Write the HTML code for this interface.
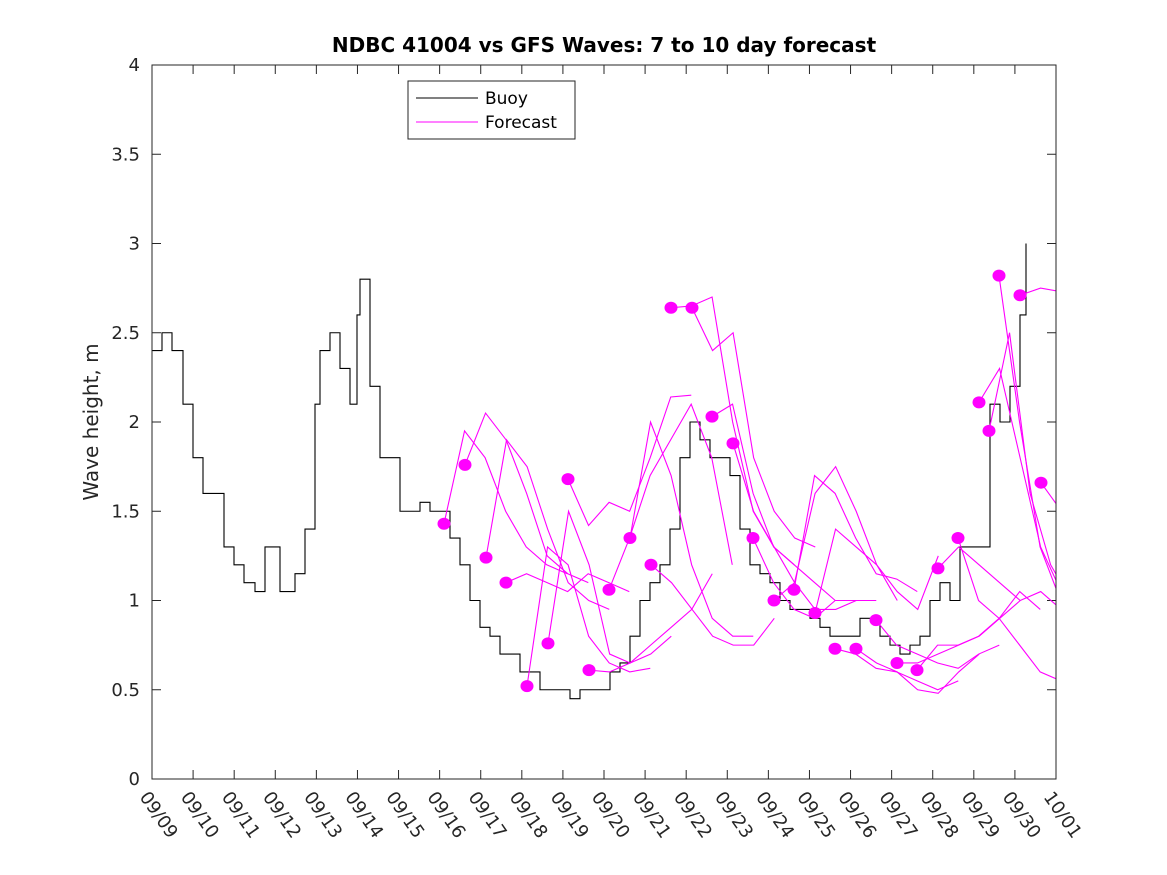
<!DOCTYPE html>
<html><head><meta charset="utf-8"><style>
body{margin:0;background:#fff}
svg{display:block;font-family:"DejaVu Sans","Liberation Sans",sans-serif}
</style></head><body>
<svg id="chart" width="1167" height="875" viewBox="0 0 1167 875">
<defs><clipPath id="clip"><rect x="152" y="65" width="904" height="714"/></clipPath></defs>
<rect width="1167" height="875" fill="#fff"/>
<text x="604" y="52" text-anchor="middle" font-size="20" font-weight="bold">NDBC 41004 vs GFS Waves: 7 to 10 day forecast</text>
<text transform="translate(98,422) rotate(-90)" text-anchor="middle" font-size="20" fill="#262626">Wave height, m</text>
<g id="axes"></g>
<g id="series" clip-path="url(#clip)"></g>
<rect x="152" y="65" width="904" height="714" fill="none" stroke="#262626" stroke-width="1"/>
<g>
<rect x="408" y="81" width="167" height="58" fill="#fff" stroke="#262626"/>
<line x1="416" y1="98" x2="478" y2="98" stroke="#000"/>
<text x="485" y="104" font-size="17">Buoy</text>
<line x1="416" y1="122" x2="478" y2="122" stroke="#f0f"/>
<text x="485" y="128" font-size="17">Forecast</text>
</g>
</svg>
<script>
const xTickLabels=["09/09","09/10","09/11","09/12","09/13","09/14","09/15","09/16","09/17","09/18","09/19","09/20","09/21","09/22","09/23","09/24","09/25","09/26","09/27","09/28","09/29","09/30","10/01"];
const yTicks=[0,0.5,1,1.5,2,2.5,3,3.5,4];
const buoyX=[152,162,172,183,193,203,213,224,234,244,255,265,280,295,305,315,320,330,340,350,357,360,370,380,390,400,410,420,430,440,450,460,470,480,490,500,510,520,530,540,550,560,570,580,590,600,610,620,630,640,650,660,670,680,690,700,710,720,730,740,750,760,770,780,790,800,810,820,830,840,850,860,870,880,890,900,910,920,930,940,950,960,970,980,990,1000,1010,1020,1026];
const buoyH=[2.4,2.5,2.4,2.1,1.8,1.6,1.6,1.3,1.2,1.1,1.05,1.3,1.05,1.15,1.4,2.1,2.4,2.5,2.3,2.1,2.6,2.8,2.2,1.8,1.8,1.5,1.5,1.55,1.5,1.5,1.35,1.2,1.0,0.85,0.8,0.7,0.7,0.6,0.6,0.5,0.5,0.5,0.45,0.5,0.5,0.5,0.6,0.65,0.8,1.0,1.1,1.2,1.4,1.8,2.0,1.9,1.8,1.8,1.7,1.4,1.2,1.15,1.1,1.0,0.95,0.95,0.9,0.85,0.8,0.8,0.8,0.9,0.9,0.8,0.75,0.7,0.75,0.8,1.0,1.1,1.0,1.3,1.3,1.3,2.1,2.0,2.2,2.6,3.0];
const fcStartX=[444,465,486,506,527,548,568,589,609,630,651,671,692,712,733,753,774,794,815,835,856,876,897,917,938,958,979,989,999,1020,1041];
const fcVals=[
[1.43,1.95,1.8,1.5,1.3,1.2,1.15],[1.76,2.05,1.9,1.6,1.25,1.15,1.1],[1.24,1.9,1.75,1.4,1.1,1.0,0.95],
[1.1,1.15,1.1,1.05,1.15,1.1,1.05],[0.52,1.3,1.2,0.8,0.65,0.6,0.62],[0.76,1.5,1.2,0.7,0.65,0.7,0.8],
[1.68,1.42,1.55,1.5,1.8,2.14,2.15],[0.61,0.6,0.65,0.75,0.85,0.95,1.15],[1.06,1.35,1.7,1.9,2.1,1.8,1.2],
[1.35,2.0,1.7,1.2,0.9,0.8,0.8],[1.2,1.1,0.95,0.8,0.75,0.75,0.9],[2.64,2.65,2.7,2.0,1.5,1.3,1.2],
[2.64,2.4,2.5,1.8,1.5,1.35,1.3],[2.03,2.1,1.6,1.3,1.2,1.1,1.0],[1.88,1.5,1.3,1.1,0.95,0.95,1.0],
[1.35,1.1,0.95,0.9,1.0,1.0,1.0],[1.0,1.1,1.6,1.75,1.5,1.2,1.0],[1.06,1.7,1.6,1.35,1.15,1.12,1.05],
[0.93,1.4,1.3,1.2,1.05,0.95,1.25],[0.73,0.7,0.62,0.6,0.55,0.5,0.55],[0.73,0.65,0.6,0.5,0.48,0.6,0.7],
[0.89,0.75,0.7,0.65,0.62,0.7,0.75],[0.65,0.65,0.7,0.75,0.8,0.9,1.0],[0.61,0.75,0.75,0.8,0.9,1.05,0.95],
[1.18,1.3,1.2,1.1,1.0,1.05,0.95],[1.35,1.0,0.9,0.75,0.6,0.55,0.8],[2.11,2.3,1.8,1.3,1.05,0.9,0.8],
[1.95,2.5,1.6,1.2,1.0,0.85,0.72],[2.82,2.0,1.3,1.0,0.95,0.9,0.98],[2.71,2.75,2.73,2.85,3.15,3.18,3.18],[1.66,1.5,1.4]];
const X0=152,X1=1056,Y0=779,Y1=65;
const xDay=d=>X0+d*(X1-X0)/(xTickLabels.length-1);
const y=v=>Y0-v*(Y0-Y1)/4;
const NS="http://www.w3.org/2000/svg";
const axes=document.getElementById('axes'),series=document.getElementById('series');
function mk(tag,attrs,parent){const e=document.createElementNS(NS,tag);for(const k in attrs)e.setAttribute(k,attrs[k]);parent.appendChild(e);return e;}
yTicks.forEach(v=>{
 mk('line',{x1:X0,x2:X0+9,y1:y(v),y2:y(v),stroke:'#262626'},axes);
 mk('line',{x1:X1,x2:X1-9,y1:y(v),y2:y(v),stroke:'#262626'},axes);
 const t=mk('text',{x:X0-12,y:y(v)+6,'text-anchor':'end','font-size':18,fill:'#262626'},axes);
 
 
 t.textContent=v;
});
xTickLabels.forEach((lab,i)=>{
 const x=xDay(i);
 mk('line',{x1:x,x2:x,y1:Y0,y2:Y0-9,stroke:'#262626'},axes);
 mk('line',{x1:x,x2:x,y1:Y1,y2:Y1+9,stroke:'#262626'},axes);
 const t=mk('text',{transform:`translate(${x-13},${Y0+18}) rotate(55)`,'font-size':18,fill:'#262626'},axes);
 
 
 t.textContent=lab;
});
let d='';
buoyX.forEach((px,i)=>{const yy=y(buoyH[i]);d+=(i?`H${px}V${yy}`:`M${px},${yy}`);});
const bl=mk('path',{d:d,fill:'none',stroke:'#000','stroke-width':1.1},series);


const step=(X1-X0)/22/2;
fcVals.forEach((vals,k)=>{
 const sx=fcStartX[k];
 const pts=vals.map((v,j)=>`${sx+j*step},${y(v)}`).join(' ');
 const pl=mk('polyline',{points:pts,fill:'none',stroke:'#f0f','stroke-width':1.1},series);
 
 
});
fcVals.forEach((vals,k)=>{
 const c=mk('ellipse',{cx:fcStartX[k],cy:y(vals[0]),rx:6.5,ry:6,fill:'#f0f'},series);
 
 
});
</script>
</body></html>
